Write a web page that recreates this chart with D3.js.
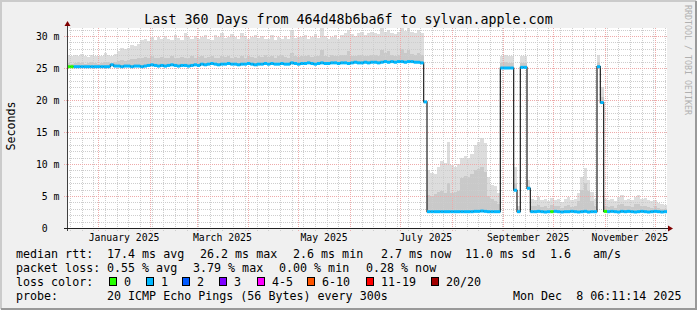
<!DOCTYPE html>
<html lang="en">
<head>
<meta charset="UTF-8">
<title>smokeping sylvan.apple.com</title>
<script src="https://cdn.jsdelivr.net/npm/d3@7"></script>
<style>
  html, body { margin: 0; padding: 0; background: #f0f0f0; }
  svg { display: block; font-family: "DejaVu Sans Mono", monospace; }
  text { white-space: pre; }
</style>
</head>
<body>
<div id="chart"></div>
<script>
// time span of the graph: 360 days ending at the probe time
const endTime = new Date(2025, 11, 8, 6, 11, 14);
const spanDays = 360;
const binDays = 2;

// median rtt per 2-day bin (ms)
const medRtt = [
  25.2, 25.2, 25.2, 25.2, 25.2, 25.2, 25.2, 25.2, 25.2, 25.2,
  25.2, 25.2, 25.2, 25.5, 25.3, 25.3, 25.2, 25.3, 25.3, 25.2,
  25.3, 25.3, 25.2, 25.3, 25.4, 25.5, 25.4, 25.3, 25.4, 25.3,
  25.4, 25.5, 25.4, 25.3, 25.4, 25.4, 25.3, 25.4, 25.5, 25.4,
  25.6, 25.5, 25.6, 25.7, 25.6, 25.5, 25.6, 25.6, 25.7, 25.6,
  25.6, 25.5, 25.6, 25.6, 25.7, 25.6, 25.5, 25.6, 25.6, 25.7,
  25.6, 25.7, 25.6, 25.6, 25.7, 25.6, 25.6, 25.8, 25.7, 25.6,
  25.7, 25.7, 25.8, 25.7, 25.6, 25.7, 25.8, 25.7, 25.7, 25.8,
  25.8, 25.7, 25.8, 25.8, 25.7, 25.8, 25.9, 25.8, 25.8, 25.9,
  25.8, 25.9, 25.9, 25.8, 25.9, 26.0, 25.9, 26.0, 25.9, 26.0,
  26.0, 25.9, 26.0, 26.0, 25.9, 25.9, 25.8, 19.7, 2.55, 2.55,
  2.55, 2.55, 2.55, 2.55, 2.55, 2.55, 2.55, 2.55, 2.55, 2.55,
  2.55, 2.55, 2.6, 2.6, 2.65, 2.6, 2.55, 2.55, 2.55, 2.55,
  25.0, 25.0, 25.0, 25.0, 5.9, 2.55, 25.1, 25.1, 6.2, 2.55,
  2.55, 2.6, 2.55, 2.5, 2.55, 2.55, 2.6, 2.55, 2.5, 2.55,
  2.55, 2.6, 2.55, 2.5, 2.55, 2.6, 2.5, 2.55, 2.55, 25.2,
  19.6, 2.6, 2.55, 2.6, 2.55, 2.5, 2.6, 2.55, 2.6, 2.55,
  2.5, 2.55, 2.6, 2.55, 2.5, 2.55, 2.6, 2.55, 2.5, 2.55
];

// top of the smoke (slowest ping) per bin (ms)
const smokeMax = [
  27.0, 26.8, 27.0, 26.9, 27.2, 26.8, 26.7, 27.0, 26.9, 26.8,
  26.9, 27.4, 27.0, 26.9, 27.2, 27.6, 28.1, 28.0, 28.2, 28.6,
  28.5, 28.8, 29.3, 29.6, 29.2, 29.8, 29.4, 29.9, 29.5, 30.0,
  29.6, 29.3, 30.1, 29.7, 29.4, 30.4, 29.8, 29.5, 30.0, 29.6,
  29.9, 30.2, 29.6, 29.4, 30.1, 29.8, 30.5, 29.7, 29.9, 30.3,
  29.8, 29.5, 30.4, 30.0, 29.6, 29.9, 30.2, 29.7, 30.0, 29.6,
  29.5, 30.1, 29.4, 29.8, 29.6, 30.0, 29.5, 31.0, 29.7, 29.9,
  29.8, 30.2, 29.6, 29.9, 30.3, 29.7, 31.25, 30.0, 29.6, 29.8,
  30.1, 29.5, 30.2, 30.4, 31.0, 30.3, 30.0, 30.5, 30.6, 30.2,
  30.4, 30.7, 30.5, 30.3, 31.25, 30.6, 31.0, 30.5, 30.3, 30.6,
  31.25, 30.8, 31.25, 30.6, 30.4, 30.9, 30.5, 19.7, 9.1, 8.6,
  8.4, 9.6, 10.4, 10.2, 13.5, 9.8, 9.5, 10.0, 10.9, 11.2,
  11.0, 11.6, 13.0, 13.4, 14.0, 13.3, 8.0, 6.7, 6.5, 5.5,
  26.9, 27.0, 26.8, 26.9, 9.6, 3.5, 26.9, 26.8, 7.5, 4.6,
  4.4, 4.8, 4.3, 4.5, 4.2, 4.7, 4.4, 4.6, 4.1, 4.5,
  4.8, 4.3, 4.6, 5.5, 8.0, 9.4, 7.5, 5.6, 4.6, 27.0,
  22.0, 4.5, 4.3, 4.6, 4.2, 4.8, 5.2, 4.4, 4.6, 4.3,
  4.9, 5.1, 4.5, 4.7, 4.4, 4.2, 4.4, 3.9, 3.8, 3.6
];

// upper edge of the denser middle smoke per bin (ms)
const smokeMid = [
  25.8, 25.7, 25.8, 25.9, 25.8, 25.7, 25.8, 25.9, 25.8, 25.7,
  25.8, 26.0, 25.9, 25.8, 26.0, 26.1, 26.2, 26.1, 26.3, 26.4,
  26.4, 26.6, 26.5, 26.7, 26.6, 26.8, 26.6, 26.5, 26.7, 26.6,
  26.6, 26.8, 26.5, 26.5, 26.7, 26.6, 26.5, 26.8, 26.6, 26.7,
  26.8, 26.6, 26.7, 26.9, 26.6, 26.5, 26.8, 26.7, 26.9, 26.6,
  26.7, 26.5, 26.8, 26.6, 26.9, 26.7, 26.6, 26.8, 26.7, 27.0,
  26.7, 26.9, 26.6, 26.8, 27.0, 26.7, 26.6, 27.4, 26.8, 26.7,
  26.9, 26.8, 27.0, 26.7, 26.8, 26.9, 27.8, 26.8, 26.7, 27.0,
  26.9, 26.8, 27.0, 27.1, 27.7, 26.9, 26.8, 27.0, 27.1, 26.8,
  26.9, 27.1, 27.0, 26.8, 27.8, 27.3, 27.6, 27.0, 26.9, 27.1,
  28.0, 27.4, 27.8, 27.2, 27.0, 27.3, 27.1, 19.7, 5.2, 5.0,
  5.3, 5.6, 5.8, 5.5, 7.0, 5.4, 5.6, 5.8, 7.8, 8.2,
  8.0, 8.4, 9.0, 9.2, 9.5, 8.8, 5.0, 4.6, 4.2, 3.8,
  25.8, 25.9, 25.8, 25.8, 7.0, 3.0, 25.8, 25.8, 6.5, 3.5,
  3.4, 3.6, 3.3, 3.5, 3.2, 3.6, 3.4, 3.5, 3.2, 3.4,
  3.6, 3.3, 3.5, 4.2, 6.0, 7.0, 5.8, 4.2, 3.5, 25.9,
  20.5, 3.4, 3.3, 3.5, 3.2, 3.6, 3.8, 3.4, 3.5, 3.3,
  3.7, 3.8, 3.4, 3.5, 3.3, 3.2, 3.4, 3.1, 3.0, 2.9
];

// bins where no ping was lost (all others lost 1 of 20)
const lossZeroBins = [0, 1, 145, 161];

const yTicks = [0, 5, 10, 15, 20, 25, 30];
const monthLabelMonths = ["2025-01", "2025-03", "2025-05", "2025-07", "2025-09", "2025-11"];

const lossLabels = ["0", "1", "2", "3", "4-5", "6-10", "11-19", "20/20"];
const lossColors = ["#26ff00", "#00b8ff", "#0059ff", "#7e00ff", "#ff00ff", "#ff5500", "#ff0000", "#a10000"];

const titleText = "Last 360 Days from 464d48b6ba6f to sylvan.apple.com";
const rttLegend = ["17.4 ms avg", "26.2 ms max", "2.6 ms min", "2.7 ms now", "11.0 ms sd", "1.6", "am/s"];
const lossLegend = ["0.55 % avg", "3.79 % max", "0.00 % min", "0.28 % now"];
const probeText = "20 ICMP Echo Pings (56 Bytes) every 300s";
const stampText = "Mon Dec  8 06:11:14 2025";

let draw = () => {
    const W = 697, H = 310;
    const padding = { top: 28, left: 67, right: 30, bottom: 82 };
    const width = W - padding.left - padding.right;   // 600
    const height = H - padding.top - padding.bottom;  // 200
    const x0 = padding.left, y0 = padding.top, yb = padding.top + height;

    let svg = d3.select("#chart").append("svg")
        .attr("width", W).attr("height", H);

    // background + 3d frame
    svg.append("rect").attr("width", W).attr("height", H).attr("fill", "#f0f0f0");
    svg.append("path").attr("d", `M1,${H - 1}V1H${W - 1}`).attr("fill", "none")
        .attr("stroke", "#cbcbcb").attr("stroke-width", 2);
    svg.append("path").attr("d", `M1,${H - 1}H${W - 1}V1`).attr("fill", "none")
        .attr("stroke", "#999999").attr("stroke-width", 2);

    const startTime = d3.timeDay.offset(endTime, -spanDays);
    const binTime = i => d3.timeDay.offset(startTime, i * binDays);

    let x = d3.scaleTime().domain([startTime, endTime]).range([x0, x0 + width]);
    let y = d3.scaleLinear().domain([0, 31.25]).range([yb, y0]);

    const bins = medRtt.map((m, i) => ({
        i: i, t0: binTime(i), t1: binTime(i + 1),
        med: m, max: smokeMax[i], mid: smokeMid[i],
        loss: lossZeroBins.includes(i) ? 0 : 1
    }));

    // canvas
    svg.append("rect").attr("x", x0).attr("y", y0).attr("width", width).attr("height", height)
        .attr("fill", "#ffffff");

    // smoke
    let smoke = svg.append("g").attr("shape-rendering", "crispEdges");
    smoke.selectAll(".smokeHi").data(bins).enter().append("rect")
        .attr("x", d => x(d.t0))
        .attr("width", d => Math.max(0, Math.min(x(d.t1), x0 + width) - x(d.t0)))
        .attr("y", d => y(Math.max(d.max, d.med)))
        .attr("height", d => Math.abs(y(d.med) - y(Math.max(d.max, d.med))))
        .attr("fill", "#dddddd");
    smoke.selectAll(".smokeMid").data(bins).enter().append("rect")
        .attr("x", d => x(d.t0))
        .attr("width", d => Math.max(0, Math.min(x(d.t1), x0 + width) - x(d.t0)))
        .attr("y", d => y(Math.max(d.mid, d.med)))
        .attr("height", d => Math.abs(y(d.med) - y(Math.max(d.mid, d.med))))
        .attr("fill", "#c9c9c9");

    // grid
    let grid = svg.append("g").attr("fill", "none").attr("stroke-width", 1)
        .attr("stroke-dasharray", "1,1").attr("shape-rendering", "crispEdges");
    const minorY = d3.range(1, 32).filter(v => v % 5 !== 0);
    grid.selectAll(".hminor").data(minorY).enter().append("line")
        .attr("x1", x0).attr("x2", x0 + width)
        .attr("y1", d => Math.round(y(d)) + 0.5).attr("y2", d => Math.round(y(d)) + 0.5)
        .attr("stroke", "#cdcdcd");
    const weeks = d3.timeSunday.range(startTime, endTime);
    grid.selectAll(".vminor").data(weeks).enter().append("line")
        .attr("x1", d => Math.round(x(d)) + 0.5).attr("x2", d => Math.round(x(d)) + 0.5)
        .attr("y1", y0).attr("y2", yb + 3)
        .attr("stroke", "#cdcdcd");
    const months = d3.timeMonth.range(startTime, endTime);
    grid.selectAll(".vmajor").data(months).enter().append("line")
        .attr("x1", d => Math.round(x(d)) + 0.5).attr("x2", d => Math.round(x(d)) + 0.5)
        .attr("y1", y0).attr("y2", yb + 3)
        .attr("stroke", "#eeaaaa");
    grid.selectAll(".hmajor").data(yTicks.filter(v => v > 0)).enter().append("line")
        .attr("x1", x0 - 3).attr("x2", x0 + width)
        .attr("y1", d => Math.round(y(d)) + 0.5).attr("y2", d => Math.round(y(d)) + 0.5)
        .attr("stroke", "#eeaaaa");

    // median: dark step line, then loss coloured segments on top
    let medLine = d3.line().curve(d3.curveStepAfter)
        .x(d => x(d[0])).y(d => y(d[1]));
    const medPts = bins.map(d => [d.t0, d.med]).concat([[endTime, medRtt[medRtt.length - 1]]]);
    svg.append("path").datum(medPts).attr("d", medLine)
        .attr("fill", "none").attr("stroke", "#202020").attr("stroke-width", 1.2);
    svg.append("g").selectAll("line").data(bins).enter().append("line")
        .attr("x1", d => x(d.t0)).attr("x2", d => Math.min(x(d.t1), x0 + width))
        .attr("y1", d => y(d.med)).attr("y2", d => y(d.med))
        .attr("stroke", d => lossColors[d.loss]).attr("stroke-width", 3);

    // axes
    let axes = svg.append("g").attr("shape-rendering", "crispEdges");
    axes.append("line").attr("x1", x0 + 0.5).attr("x2", x0 + 0.5).attr("y1", yb + 3).attr("y2", y0 - 3)
        .attr("stroke", "#404040");
    axes.append("line").attr("x1", x0 - 3).attr("x2", x0 + width + 3).attr("y1", yb + 0.5).attr("y2", yb + 0.5)
        .attr("stroke", "#202020");
    svg.append("path").attr("d", `M${x0 - 2.5},${y0 - 2}L${x0 + 0.5},${y0 - 7}L${x0 + 3.5},${y0 - 2}Z`)
        .attr("fill", "#800000");
    svg.append("path").attr("d", `M${x0 + width + 1},${yb - 2.5}L${x0 + width + 6},${yb + 0.5}L${x0 + width + 1},${yb + 3.5}Z`)
        .attr("fill", "#800000");

    // y labels
    svg.append("g").selectAll("text").data(yTicks).enter().append("text")
        .attr("x", 59.5).attr("y", d => y(d)).attr("dy", "0.36em")
        .attr("text-anchor", "end").attr("font-size", "9.8px").attr("fill", "#000")
        .text(d => d === 0 ? "0  " : d + " m");

    // x labels, centred in their month
    svg.append("g").selectAll("text").data(monthLabelMonths).enter().append("text")
        .attr("x", d => {
            const m0 = d3.timeParse("%Y-%m")(d);
            const m1 = d3.timeMonth.offset(m0, 1);
            return x(new Date((+m0 + +m1) / 2));
        })
        .attr("y", 241).attr("text-anchor", "middle").attr("font-size", "9.8px")
        .text(d => d3.timeFormat("%B %Y")(d3.timeParse("%Y-%m")(d)));

    // title and side labels
    svg.append("text").attr("x", W / 2).attr("y", 24).attr("text-anchor", "middle")
        .attr("font-size", "13.3px").text(titleText);
    svg.append("text").attr("transform", `translate(15,${(y0 + yb) / 2 - 2}) rotate(-90)`)
        .attr("text-anchor", "middle").attr("font-size", "11.67px").text("Seconds");
    svg.append("text").attr("transform", "translate(685,5) rotate(90)")
        .attr("font-size", "8.3px").attr("fill", "#b0b0b0").text("RRDTOOL / TOBI OETIKER");

    // legend
    let legend = svg.append("g").attr("font-size", "11.67px");
    const rows = [258, 272, 286, 300];
    legend.append("text").attr("x", 16).attr("y", rows[0]).text("median rtt:");
    const rttCols = [107, 200, 293, 381, 465, 550, 593];
    legend.selectAll(".rtt").data(rttLegend).enter().append("text")
        .attr("x", (d, i) => rttCols[i]).attr("y", rows[0]).text(d => d);

    legend.append("text").attr("x", 16).attr("y", rows[1]).text("packet loss:");
    const lossCols = [107, 193, 279, 366];
    legend.selectAll(".loss").data(lossLegend).enter().append("text")
        .attr("x", (d, i) => lossCols[i]).attr("y", rows[1]).text(d => d);

    legend.append("text").attr("x", 16).attr("y", rows[2]).text("loss color:");
    const boxCols = [109, 146, 182, 219, 257, 307, 366, 431];
    let items = legend.selectAll(".lc").data(lossLabels).enter().append("g");
    items.append("rect")
        .attr("x", (d, i) => boxCols[i] + 0.5).attr("y", rows[2] - 8.5)
        .attr("width", 7).attr("height", 8)
        .attr("fill", (d, i) => lossColors[i]).attr("stroke", "#000").attr("stroke-width", 1);
    items.append("text")
        .attr("x", (d, i) => boxCols[i] + 15).attr("y", rows[2]).text(d => d);

    legend.append("text").attr("x", 16).attr("y", rows[3]).text("probe:");
    legend.append("text").attr("x", 107).attr("y", rows[3]).text(probeText);
    legend.append("text").attr("x", 513).attr("y", rows[3]).text(stampText);
};

draw();
</script>
</body>
</html>
